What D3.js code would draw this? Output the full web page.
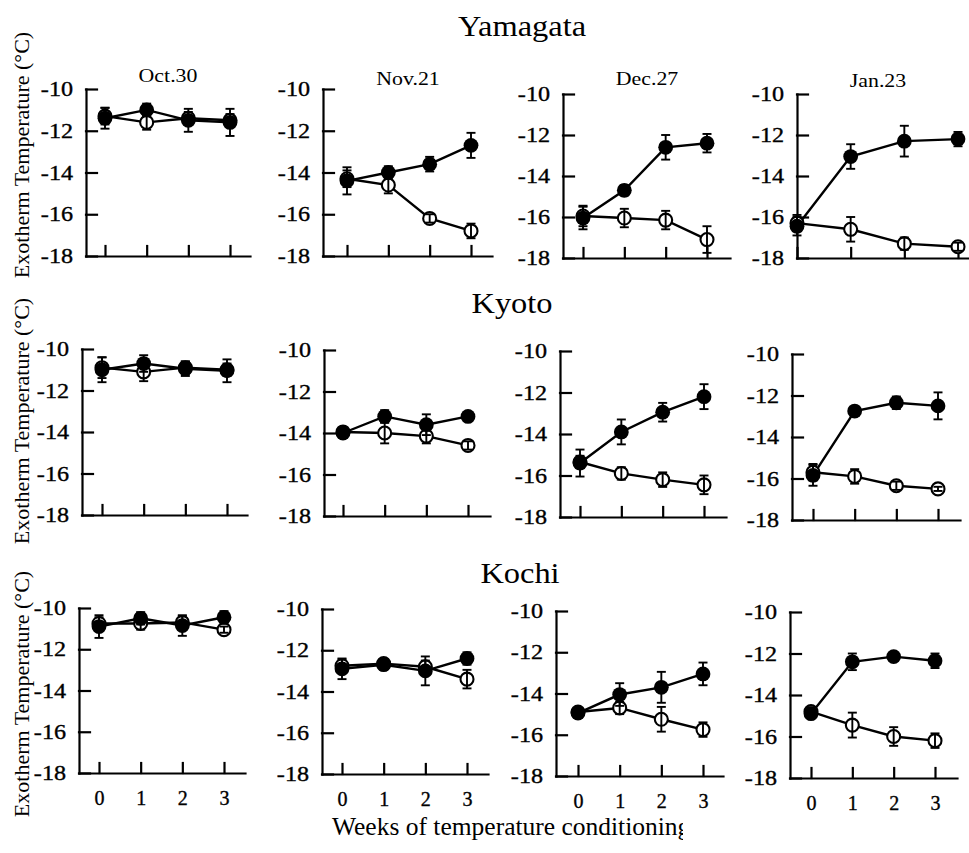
<!DOCTYPE html>
<html>
<head>
<meta charset="utf-8">
<script src="https://cdn.jsdelivr.net/npm/d3@7"></script>
<style>
  body { margin: 0; background: #fff; }
  svg { display: block; background: #fff; }
  text { font-family: "Liberation Serif", "Times New Roman", serif; fill: #000; }
</style>
</head>
<body>
<svg id="chart"></svg>
<script>
// Rows are sites, columns are sampling dates
const sites = ["Yamagata", "Kyoto", "Kochi"];
const dates = ["Oct.30", "Nov.21", "Dec.27", "Jan.23"];
const weeks = [0, 1, 2, 3];
const yTicks = [-10, -12, -14, -16, -18];
const yLabel = "Exotherm Temperature (°C)";
const xLabel = "Weeks of temperature conditioning";

// Mean exotherm temperature (one row per date, weeks 0..3)
// filled circles
const yamagataFilled = [
    [-11.4, -11.0, -11.5, -11.6],
    [-14.4, -14.0, -13.6, -12.7],
    [-16.05, -14.7, -12.6, -12.4],
    [-16.45, -13.05, -12.3, -12.2]
];
const yamagataFilledErr = [
    [0.5, 0.3, 0.55, 0.65],
    [0.65, 0.3, 0.35, 0.6],
    [0.55, 0.25, 0.6, 0.45],
    [0.45, 0.6, 0.75, 0.35]
];
// open circles
const yamagataOpen = [
    [-11.3, -11.6, -11.4, -11.5],
    [-14.3, -14.6, -16.2, -16.8],
    [-15.95, -16.05, -16.15, -17.1],
    [-16.3, -16.6, -17.3, -17.45]
];
const yamagataOpenErr = [
    [0.4, 0.35, 0.3, 0.3],
    [0.4, 0.4, 0.2, 0.35],
    [0.5, 0.45, 0.45, 0.65],
    [0.4, 0.6, 0.3, 0.2]
];

const kyotoFilled = [
    [-11.0, -10.7, -10.95, -11.05],
    [-14.0, -13.2, -13.6, -13.2],
    [-15.4, -13.9, -12.95, -12.2],
    [-15.85, -12.75, -12.35, -12.5]
];
const kyotoFilledErr = [
    [0.6, 0.4, 0.35, 0.55],
    [0.2, 0.3, 0.5, 0.2],
    [0.65, 0.6, 0.45, 0.6],
    [0.5, 0.2, 0.3, 0.65]
];
const kyotoOpen = [
    [-10.9, -11.1, -10.9, -11.0],
    [-13.95, -14.0, -14.15, -14.6],
    [-15.35, -15.9, -16.2, -16.45],
    [-15.7, -15.9, -16.35, -16.5]
];
const kyotoOpenErr = [
    [0.5, 0.45, 0.3, 0.3],
    [0.2, 0.5, 0.35, 0.2],
    [0.3, 0.3, 0.35, 0.45],
    [0.4, 0.35, 0.2, 0.1]
];

const kochiFilled = [
    [-10.9, -10.5, -10.85, -10.45],
    [-12.9, -12.7, -13.0, -12.4],
    [-14.95, -14.05, -13.7, -13.05],
    [-14.9, -12.4, -12.15, -12.35]
];
const kochiFilledErr = [
    [0.55, 0.3, 0.5, 0.3],
    [0.5, 0.25, 0.7, 0.3],
    [0.2, 0.55, 0.75, 0.55],
    [0.2, 0.4, 0.2, 0.35]
];
const kochiOpen = [
    [-10.75, -10.75, -10.7, -11.05],
    [-12.75, -12.65, -12.8, -13.4],
    [-14.9, -14.7, -15.25, -15.75],
    [-14.8, -15.45, -16.0, -16.2]
];
const kochiOpenErr = [
    [0.3, 0.3, 0.3, 0.15],
    [0.3, 0.2, 0.3, 0.45],
    [0.2, 0.3, 0.6, 0.35],
    [0.2, 0.6, 0.45, 0.35]
];

// table built from the arrays above
const siteSeries = [
    { filled: yamagataFilled, filledErr: yamagataFilledErr, open: yamagataOpen, openErr: yamagataOpenErr },
    { filled: kyotoFilled, filledErr: kyotoFilledErr, open: kyotoOpen, openErr: kyotoOpenErr },
    { filled: kochiFilled, filledErr: kochiFilledErr, open: kochiOpen, openErr: kochiOpenErr }
];

// Panel boxes (the scanned figure is a bit irregular):
// [y axis x, week 0 x, week 3 x, end of x axis, y of -10, y of -18]
const panelBox = [
    [[86, 105, 230, 250, 89, 256], [323, 347, 471, 492, 89, 256], [563, 583, 707, 730, 94, 258], [797, 797, 958, 969, 94, 258]],
    [[82, 102, 227, 247, 349, 515], [324, 343, 468, 490, 350, 516], [560, 580, 704, 726, 351, 517], [792, 813, 938, 960, 354, 520]],
    [[79, 99, 224, 245, 608, 773], [322, 342, 467, 488, 609, 774], [556, 578, 703, 723, 611, 776], [790, 811, 935, 957, 612, 778]]
];

const width = 969;
const height = 853;
const serif = '"Liberation Serif", "Times New Roman", serif';

const svg = d3.select("#chart")
    .attr("width", width)
    .attr("height", height);

// Text that looks a little wider than the font, like in the scan
function wideText(parent, x, y, str, size, sx, anchor) {
    return parent.append("text")
        .attr("transform", `translate(${x},${y}) scale(${sx},1)`)
        .attr("text-anchor", anchor || "middle")
        .attr("font-size", size)
        .style("font-family", serif)
        .text(str);
}

// Row titles
const rowTitlePos = [[522, 36], [512, 313], [520, 583]];
sites.forEach((s, r) => {
    wideText(svg, rowTitlePos[r][0], rowTitlePos[r][1], s, 30, 1.08);
});

// Date titles above the first row
const dateTitlePos = [[168, 82], [408, 85], [647, 85], [878, 87]];
dates.forEach((d, c) => {
    wideText(svg, dateTitlePos[c][0], dateTitlePos[c][1], d, 19, 1.15);
});

// Rotated y labels, one per row
const yLabelCenter = [155, 421, 694];
yLabelCenter.forEach(cy => {
    svg.append("text")
        .attr("transform", `translate(29,${cy}) rotate(-90)`)
        .attr("text-anchor", "middle")
        .attr("font-size", 22)
        .style("font-family", serif)
        .text(yLabel);
});

// x label, its last letter is cut off in the original
svg.append("clipPath").attr("id", "xlabClip")
    .append("rect").attr("x", 0).attr("y", 780).attr("width", 683).attr("height", 73);
svg.append("text")
    .attr("clip-path", "url(#xlabClip)")
    .attr("x", 332)
    .attr("y", 835)
    .attr("font-size", 25.5)
    .style("font-family", serif)
    .text(xLabel);

const tickSx = 1.15;

sites.forEach((site, r) => {
    const series = siteSeries[r];
    dates.forEach((date, c) => {
        const [ax, x0, x3, xEnd, yTop, yBot] = panelBox[r][c];
        const x = d3.scaleLinear().domain([0, 3]).range([x0, x3]);
        // same mapping, stretched out to where the axis line ends
        const xAxisScale = d3.scaleLinear()
            .domain([x.invert(ax), x.invert(xEnd)])
            .range([ax, xEnd]);
        const y = d3.scaleLinear().domain([-18, -10]).range([yBot, yTop]);

        const g = svg.append("g");

        // y axis, ticks point inwards
        const yAxisG = g.append("g")
            .attr("transform", `translate(${ax},0)`)
            .call(d3.axisLeft(y)
                .tickValues(yTicks)
                .tickSizeInner(-11)
                .tickSizeOuter(0)
                .tickPadding(13)
                .tickFormat(d => String(d)));
        yAxisG.attr("font-family", null).attr("font-size", null);
        yAxisG.selectAll("text")
            .attr("x", -13 / tickSx)
            .attr("transform", `scale(${tickSx},1)`)
            .style("font-family", serif)
            .style("font-size", "21px")
            .style("stroke", "#000")
            .style("stroke-width", 0.35);

        // x axis, labels only on the bottom row
        const xAxisG = g.append("g")
            .attr("transform", `translate(0,${yBot})`)
            .call(d3.axisBottom(xAxisScale)
                .tickValues(weeks)
                .tickSizeInner(-10)
                .tickSizeOuter(0)
                .tickPadding(18)
                .tickFormat(d => r === sites.length - 1 ? String(d) : ""));
        xAxisG.attr("font-family", null).attr("font-size", null);
        xAxisG.selectAll("text")
            .style("font-family", serif)
            .style("font-size", "20px")
            .style("stroke", "#000")
            .style("stroke-width", 0.35);

        g.selectAll(".domain, .tick line")
            .attr("stroke", "#000")
            .attr("stroke-width", 2.2)
            .attr("stroke-linecap", "square");

        const line = d3.line()
            .x((d, i) => x(weeks[i]))
            .y(d => y(d));

        const filled = series.filled[c];
        const filledErr = series.filledErr[c];
        const open = series.open[c];
        const openErr = series.openErr[c];

        // connecting lines
        [open, filled].forEach(vals => {
            g.append("path")
                .datum(vals)
                .attr("fill", "none")
                .attr("stroke", "#000")
                .attr("stroke-width", 2.4)
                .attr("d", line);
        });

        // error bars with caps
        function errorBars(vals, errs) {
            const eg = g.append("g")
                .attr("stroke", "#000")
                .attr("stroke-width", 1.9);
            eg.selectAll("line.v")
                .data(vals)
                .join("line")
                .attr("class", "v")
                .attr("x1", (d, i) => x(weeks[i]))
                .attr("x2", (d, i) => x(weeks[i]))
                .attr("y1", (d, i) => y(d + errs[i]))
                .attr("y2", (d, i) => y(d - errs[i]));
            [1, -1].forEach(sign => {
                eg.selectAll(null)
                    .data(vals)
                    .join("line")
                    .attr("x1", (d, i) => x(weeks[i]) - 4.5)
                    .attr("x2", (d, i) => x(weeks[i]) + 4.5)
                    .attr("y1", (d, i) => y(d + sign * errs[i]))
                    .attr("y2", (d, i) => y(d + sign * errs[i]));
            });
        }

        // open circles, the bar shows through them
        g.selectAll(null)
            .data(open)
            .join("circle")
            .attr("cx", (d, i) => x(weeks[i]))
            .attr("cy", d => y(d))
            .attr("r", 6.5)
            .attr("fill", "#fff")
            .attr("stroke", "#000")
            .attr("stroke-width", 2.1);
        errorBars(open, openErr);

        // filled circles on top
        errorBars(filled, filledErr);
        g.selectAll(null)
            .data(filled)
            .join("circle")
            .attr("cx", (d, i) => x(weeks[i]))
            .attr("cy", d => y(d))
            .attr("r", 7.4)
            .attr("fill", "#000");
    });
});
</script>
</body>
</html>
